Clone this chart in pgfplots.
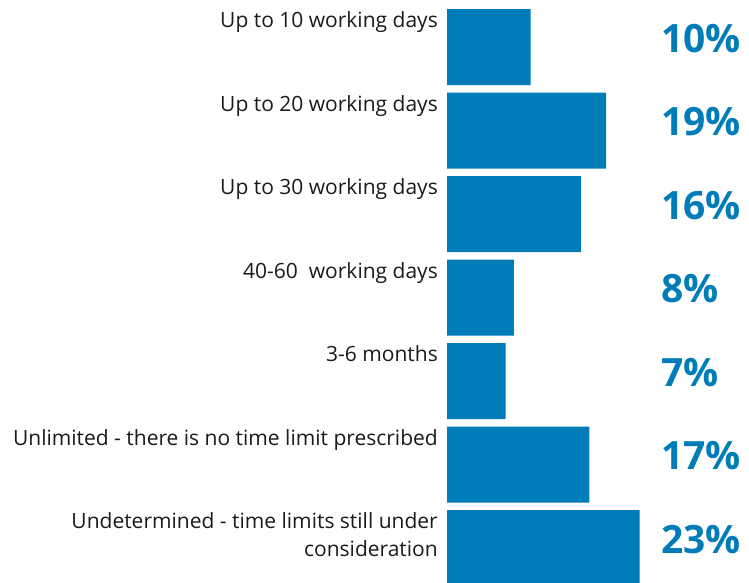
\documentclass[border=0pt]{standalone}
\usepackage{fontspec}
\setmainfont{Open Sans}
\usepackage{pgfplots}
\pgfplotsset{compat=1.18}
\definecolor{barblue}{RGB}{0,125,184}
\definecolor{labelgray}{RGB}{26,26,26}
\begin{document}
\begin{tikzpicture}
\useasboundingbox (0,0) rectangle (749pt,-582pt);
\begin{axis}[
  at={(447pt,-5.25pt)}, anchor=north west,
  scale only axis, width=292.95pt, height=584.5pt,
  xmin=0, xmax=35, ymin=-0.5, ymax=6.5, y dir=reverse,
  axis line style={draw=none}, tick style={draw=none},
  xtick=\empty,
  ytick={0,1,2,3,4,5,6},
  yticklabels={Up to 10 working days, Up to 20 working days, Up to 30 working days, {40-60\ \ working days}, 3-6 months, Unlimited - there is no time limit prescribed, {Undetermined - time limits still under\\consideration}},
  yticklabel style={anchor=north east, align=right, inner sep=0pt, xshift=-9pt, yshift=35.5pt, font=\fontsize{21}{27.5}\selectfont, text=labelgray},
  clip=false,
]
\addplot[xbar, bar width=76pt, fill=barblue, draw=none] coordinates {
  (10,0) (19,1) (16,2) (8,3) (7,4) (17,5) (23,6)
};
\addplot[draw=none, mark=none, point meta=explicit symbolic,
  nodes near coords,
  every node near coord/.style={anchor=base west, inner sep=0pt, yshift=-5pt, font=\fontsize{39}{39}\bfseries\selectfont, text=barblue}]
  coordinates {
  (25.57,0) [10\%] (25.57,1) [19\%] (25.57,2) [16\%] (25.57,3) [8\%] (25.57,4) [7\%] (25.57,5) [17\%] (25.57,6) [23\%]
};
\end{axis}
\end{tikzpicture}
\end{document}
